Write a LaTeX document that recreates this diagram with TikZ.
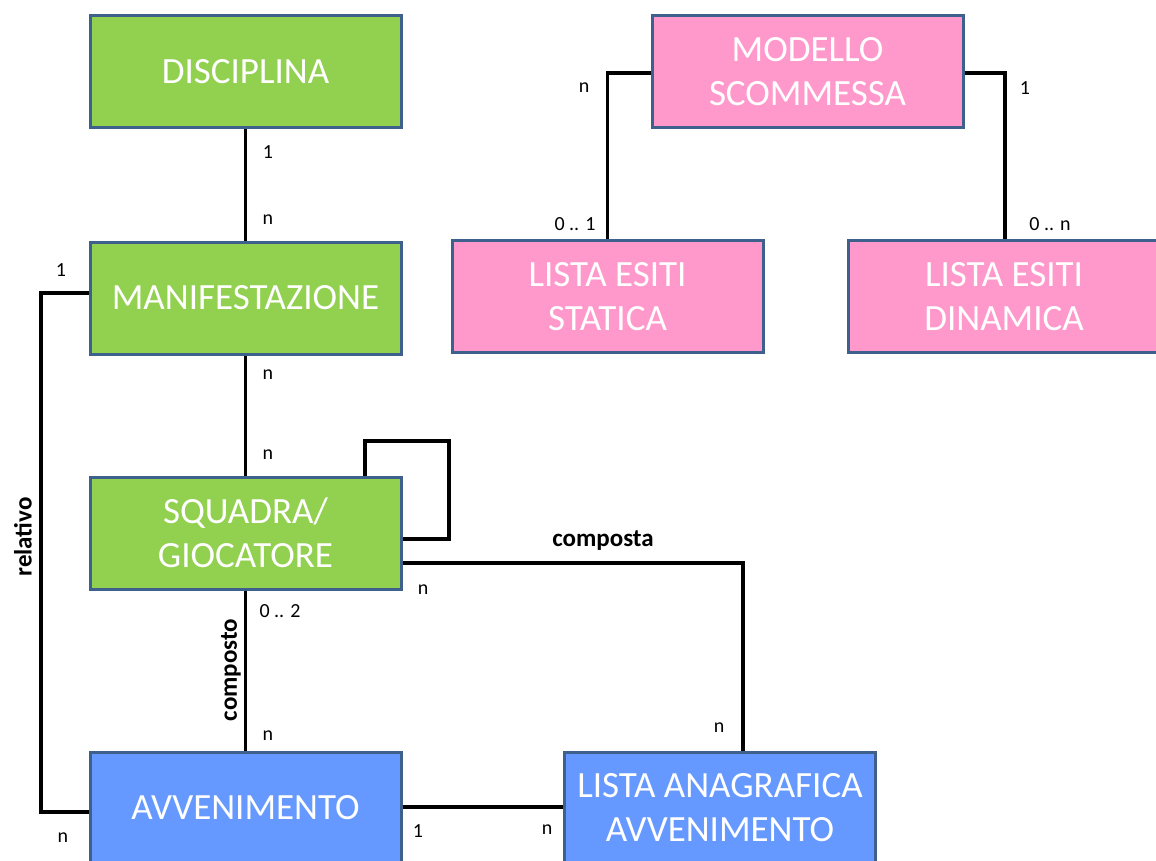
\documentclass[tikz,border=0pt]{standalone}
\usepackage{fontspec}
\setmainfont{Carlito}
\definecolor{boxgreen}{RGB}{146,208,80}
\definecolor{boxpink}{RGB}{255,153,204}
\definecolor{boxblue}{RGB}{102,153,255}
\definecolor{boxborder}{RGB}{62,96,140}
\tikzset{
  entity/.style={draw=boxborder, line width=3pt, minimum width=311pt, minimum height=112pt,
    text=white, align=center, inner sep=0pt, font=\fontsize{37}{44}\selectfont},
  gbox/.style={entity, fill=boxgreen},
  pbox/.style={entity, fill=boxpink},
  bbox/.style={entity, fill=boxblue},
  conn/.style={line width=3.6pt, black, line join=miter},
  card/.style={font=\fontsize{20}{22}\selectfont, inner sep=0pt, text=black},
  rel/.style={font=\bfseries\fontsize{25}{28}\selectfont, inner sep=0pt, text=black},
}
\begin{document}
\begin{tikzpicture}[x=1pt, y=-1pt]
\useasboundingbox (0,0) rectangle (1156,861);
\clip (0,0) rectangle (1156,861);
\fill[white] (0,0) rectangle (1156,861);

\node[gbox] (disc) at (245.5,72) {DISCIPLINA};
\node[gbox] (man) at (245.5,298) {MANIFESTAZIONE};
\node[gbox] (sq) at (245.5,533) {SQUADRA/\\GIOCATORE};
\node[bbox] (avv) at (245.5,808) {AVVENIMENTO};
\node[bbox] (ana) at (720,808) {LISTA ANAGRAFICA\\AVVENIMENTO};
\node[pbox] (mod) at (807.5,72) {MODELLO\\SCOMMESSA};
\node[pbox] (stat) at (607.5,296.5) {LISTA ESITI\\STATICA};
\node[pbox] (din) at (1004,296.5) {LISTA ESITI\\DINAMICA};

\draw[conn] (disc.south) -- (man.north);
\draw[conn] (man.south) -- (sq.north);
\draw[conn] (sq.south) -- (avv.north);
\draw[conn] (man.west |- 0,293) -- (41,293) |- (avv.west |- 0,812);
\draw[conn] (sq.north -| 365,0) |- (449,441) |- (sq.east |- 0,539);
\draw[conn] (sq.east |- 0,563) -| (ana.north -| 743,0);
\draw[conn] (avv.east |- 0,807) -- (ana.west |- 0,807);
\draw[conn] (mod.west |- 0,73) -| (stat.north);
\draw[conn] (mod.east |- 0,73) -| (din.north -| 1005,0);

% cardinalities
\node[card] (c1) at (268,152) {1};
\node[card] (c2) at (268,220) {n};
\node[card] (c3) at (61,270) {1};
\node[card] (c4) at (63,838) {n};
\node[card] (c5) at (268,375) {n};
\node[card] (c6) at (268,455) {n};
\node[card] (c7) at (280,611) {0 .. 2};
\node[card] (c8) at (268,736) {n};
\node[card] (c9) at (423,590) {n};
\node[card] (c10) at (719,728) {n};
\node[card] (c11) at (418,831) {1};
\node[card] (c12) at (547,830) {n};
\node[card] (c13) at (584,88) {n};
\node[card] (c14) at (575,224) {0 .. 1};
\node[card] (c15) at (1025,88) {1};
\node[card] (c16) at (1050,224) {0 .. n};

% relationship names
\node[rel] (r1) at (603,541) {composta};
\node[rel, rotate=90] (r2) at (23,537) {relativo};
\node[rel, rotate=90] (r3) at (231,670) {composto};
\end{tikzpicture}
\end{document}
